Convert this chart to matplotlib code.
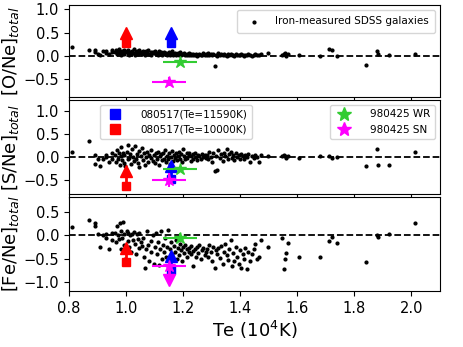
import matplotlib
matplotlib.use("Agg")
import matplotlib.pyplot as plt
import numpy as np
from matplotlib.lines import Line2D

# ---- SDSS iron-measured galaxies ----
te_a = [0.81, 0.87, 0.89, 0.89, 0.90, 0.91, 0.92, 0.93, 0.93, 0.94, 0.95, 0.95]
one_a = [0.2, 0.12, 0.08, 0.12, 0.05, 0.03, 0.1, 0.06, 0.1, 0.04, 0.12, 0.08]
sne_a = [0.12, 0.35, -0.15, 0.05, -0.05, -0.2, -0.03, 0.0, 0.05, -0.1, -0.05, 0.1]
fene_a = [0.18, 0.33, 0.25, 0.20, 0.02, -0.25, 0.0, 0.03, -0.05, -0.3, -0.1, 0.05]

te_b = [0.962,0.965,0.968,0.972,0.975,0.978,0.981,0.983,0.986,0.989,
        0.991,0.994,0.997,1.002,1.005,1.008,1.011,1.014,1.017,1.021,
        1.024,1.027,1.031,1.034,1.037,1.041,1.044,1.047,1.052,1.056,
        1.059,1.063,1.067,1.071,1.074,1.078,1.082,1.086,1.089,1.093,
        1.097,1.101,1.104,1.108,1.112,1.116,1.119,1.123,1.127,1.131,
        1.134,1.138,1.141,1.145,1.148,1.152,1.155,1.158,1.161,1.164,
        1.167,1.171,1.174,1.178,1.182,1.186,1.189,1.193,1.197,1.201,
        1.204,1.208,1.212,1.215,1.219,1.222,1.226,1.229,1.233,1.236,
        1.241,1.245,1.249,1.253,1.257,1.262,1.266,1.271,1.275,1.279]
one_b = [0.08,0.12,0.05,0.10,0.14,0.06,0.09,0.03,0.11,0.07,
         0.13,0.04,0.08,0.10,0.06,0.12,0.02,0.09,0.05,0.11,
         0.07,0.14,0.03,0.08,0.10,0.05,0.12,0.06,0.09,0.04,
         0.11,0.07,0.02,0.10,0.06,0.13,0.05,0.08,0.03,0.09,
         0.06,0.11,0.04,0.07,0.02,0.10,0.05,0.08,0.03,0.06,
         0.09,0.04,0.07,0.01,0.05,0.08,0.03,0.06,0.10,0.02,
         0.05,0.07,0.01,0.04,0.06,0.03,0.08,0.02,0.05,0.04,
         0.06,0.01,0.03,0.05,0.02,0.07,0.04,0.01,0.03,0.05,
         0.02,0.04,0.00,0.03,0.05,0.01,0.03,0.06,0.02,0.04]
sne_b = [0.05,-0.10,0.15,-0.03,0.08,-0.18,0.02,0.22,-0.07,0.10,
         -0.12,0.04,-0.20,0.12,-0.05,0.26,-0.02,0.07,-0.15,0.18,
         0.00,-0.08,0.25,-0.04,0.06,-0.12,0.14,-0.22,0.03,0.20,
         -0.06,0.09,-0.16,0.01,0.11,-0.10,0.05,-0.02,0.16,-0.08,
         0.04,-0.13,0.08,-0.04,0.12,-0.18,0.02,0.06,-0.07,0.10,
         -0.03,0.15,-0.11,0.03,-0.05,0.08,-0.14,0.00,0.13,-0.09,
         0.05,-0.02,0.09,-0.06,0.02,0.11,-0.04,0.06,-0.10,0.18,
         0.03,-0.05,0.08,-0.01,0.04,0.10,-0.08,0.02,0.06,-0.03,
         0.09,0.01,-0.06,0.05,0.02,-0.04,0.07,0.00,0.04,-0.02]
fene_b = [0.05,-0.15,0.20,0.00,-0.08,0.25,-0.30,0.10,-0.05,0.28,
          -0.20,0.02,-0.50,0.08,-0.12,0.05,-0.25,0.00,-0.35,0.03,
          -0.10,0.06,-0.18,-0.40,0.02,-0.08,-0.28,0.04,-0.15,-0.22,
          -0.05,-0.45,-0.70,-0.30,0.10,-0.20,-0.55,-0.12,-0.35,0.00,
          -0.60,-0.25,0.05,-0.40,-0.15,-0.62,-0.30,0.08,-0.50,-0.20,
          -0.35,-0.05,-0.45,-0.25,0.12,-0.55,-0.30,-0.15,-0.40,-0.65,
          -0.22,-0.35,-0.10,-0.50,-0.28,-0.42,-0.18,-0.32,-0.55,-0.25,
          -0.38,-0.20,-0.45,-0.30,-0.35,-0.28,-0.40,-0.22,-0.33,-0.65,
          -0.30,-0.45,-0.25,-0.38,-0.20,-0.50,-0.32,-0.28,-0.42,-0.35]

te_c = [1.283,1.288,1.292,1.297,1.302,1.306,1.311,1.315,1.318,1.323,
        1.328,1.333,1.338,1.342,1.347,1.352,1.356,1.361,1.366,1.371,
        1.375,1.379,1.384,1.389,1.394,1.398,1.403,1.408,1.413,1.418,
        1.423,1.428,1.434,1.441,1.447,1.453,1.459,1.466,1.474,1.497]
one_c = [0.03,0.06,0.01,0.04,0.02,0.05,-0.22,0.03,0.00,0.06,
         0.02,0.04,0.01,0.05,0.03,0.00,0.04,0.02,0.05,0.01,
         0.03,0.00,0.04,0.02,0.03,0.01,0.05,0.02,0.00,0.03,
         0.01,0.04,0.02,0.00,0.03,0.05,0.01,0.02,0.04,0.06]
sne_c = [0.05,-0.05,0.12,0.00,-0.10,0.08,-0.30,0.03,-0.28,0.15,
         -0.02,0.06,-0.08,0.10,0.02,0.18,-0.04,0.07,0.12,-0.01,
         0.04,-0.07,0.09,0.01,0.05,-0.03,0.06,0.02,-0.05,0.04,
         0.00,0.07,-0.10,0.03,-0.02,0.05,0.01,-0.10,0.04,0.02]
fene_c = [-0.30,-0.45,-0.20,-0.35,-0.55,-0.25,-0.70,-0.32,-0.40,-0.28,
          -0.48,-0.22,-0.60,-0.35,-0.18,-0.42,-0.52,-0.30,-0.10,-0.65,
          -0.38,-0.55,-0.25,-0.45,-0.60,-0.32,-0.70,-0.40,-0.50,-0.28,
          -0.72,-0.35,-0.55,-0.40,-0.30,-0.18,-0.50,-0.45,-0.10,-0.25]

te_d = [1.545,1.552,1.556,1.562,1.568,1.605,1.68,1.712,1.722,1.738,1.84,1.88,1.884,1.92,2.012]
one_d = [0.02,0.05,0.07,0.00,0.04,0.01,0.0,0.14,0.13,0.0,-0.19,0.10,0.05,0.02,0.05]
sne_d = [0.03,0.05,0.02,-0.01,0.03,-0.02,0.02,0.02,-0.02,0.0,-0.20,0.18,-0.17,-0.17,0.12]
fene_d = [-0.05,-0.72,-0.50,-0.37,-0.17,-0.47,-0.46,-0.13,-0.03,-0.17,-0.56,0.0,-0.03,0.03,0.27]

te_gal = te_a + te_b + te_c + te_d
one_gal = one_a + one_b + one_c + one_d
sne_gal = sne_a + sne_b + sne_c + sne_d
fene_gal = fene_a + fene_b + fene_c + fene_d

# ---- GRB host measurements ----
te_080517_hi = 1.159
te_080517_lo = 1.000
one_080517_hi, one_080517_hi_lim = 0.27, 0.50
one_080517_lo, one_080517_lo_lim = 0.27, 0.50
sne_080517_hi, sne_080517_hi_lim = -0.48, -0.20
sne_080517_lo, sne_080517_lo_lim = -0.62, -0.30
fene_080517_hi, fene_080517_hi_lim = -0.73, -0.43
fene_080517_lo, fene_080517_lo_lim = -0.57, -0.27

te_wr, te_wr_err = 1.19, 0.06
te_sn, te_sn_err = 1.15, 0.06
one_wr, one_wr_err = -0.12, 0.05
one_sn, one_sn_err = -0.55, 0.09
sne_wr, sne_wr_err = -0.25, 0.05
sne_sn, sne_sn_err = -0.50, 0.15
fene_wr, fene_wr_err = -0.05, 0.10
fene_sn, fene_sn_lim = -0.65, -0.95

fig = plt.figure(figsize=(4.63, 3.47), dpi=100)
L, W = 69/463, 371/463
def ax_at(top, bot):
    return fig.add_axes([L, 1 - bot/347, W, (bot - top)/347])
ax1 = ax_at(5, 97)
ax2 = ax_at(100, 194)
ax3 = ax_at(197, 291)

panels = [
    (ax1, one_gal, r'[O/Ne]$_{total}$', (-0.88, 1.09),
     (one_080517_hi, one_080517_hi_lim), (one_080517_lo, one_080517_lo_lim),
     (one_wr, one_wr_err), (one_sn, one_sn_err, None)),
    (ax2, sne_gal, r'[S/Ne]$_{total}$', (-0.8, 1.24),
     (sne_080517_hi, sne_080517_hi_lim), (sne_080517_lo, sne_080517_lo_lim),
     (sne_wr, sne_wr_err), (sne_sn, sne_sn_err, None)),
    (ax3, fene_gal, r'[Fe/Ne]$_{total}$', (-1.18, 0.81),
     (fene_080517_hi, fene_080517_hi_lim), (fene_080517_lo, fene_080517_lo_lim),
     (fene_wr, fene_wr_err), (fene_sn, None, fene_sn_lim)),
]

green = '#33cc33'
for ax, gal, lab, ylim, hi, lo, wr, sn in panels:
    ax.axhline(0, color='black', ls='--', lw=1.3, zorder=1)
    ax.scatter(te_gal, gal, s=4, color='black', zorder=2,
               label='Iron-measured SDSS galaxies')
    for te, (v, lim), c in [(te_080517_hi, hi, 'blue'), (te_080517_lo, lo, 'red')]:
        ax.plot([te, te], [v, lim], color=c, lw=2, zorder=3)
        ax.plot([te], [lim], marker='^', ms=9, color=c, ls='none', zorder=4)
        ax.plot([te], [v], marker='s', ms=6, color=c, ls='none', zorder=4)
    ax.errorbar([te_wr], [wr[0]], xerr=te_wr_err, yerr=wr[1], fmt='*',
                color=green, ms=9, elinewidth=1.5, zorder=5)
    if sn[2] is None:
        ax.errorbar([te_sn], [sn[0]], xerr=te_sn_err, yerr=sn[1], fmt='*',
                    color='magenta', ms=9, elinewidth=1.5, zorder=5)
    else:
        ax.errorbar([te_sn], [sn[0]], xerr=te_sn_err, fmt='*',
                    color='magenta', ms=9, elinewidth=1.5, zorder=5)
        ax.plot([te_sn, te_sn], [sn[0], sn[2]], color='magenta', lw=2, zorder=5)
        ax.plot([te_sn], [sn[2]], marker='v', ms=9, color='magenta', ls='none', zorder=5)
    ax.set_xlim(0.8, 2.1)
    ax.set_ylabel(lab, fontsize=13, labelpad=2)
    ax.tick_params(labelsize=10.5)
    ax.set_yticks([-1.0, -0.5, 0.0, 0.5, 1.0])
    ax.set_ylim(*ylim)

ax1.set_xticklabels([])
ax2.set_xticklabels([])
ax1.legend(loc='upper right', fontsize=7.5, handletextpad=1.0, borderpad=0.6)

h1 = [Line2D([], [], marker='s', color='blue', ls='none', ms=6.5),
      Line2D([], [], marker='s', color='red', ls='none', ms=6.5)]
leg1 = ax2.legend(h1, ['080517(Te=11590K)', '080517(Te=10000K)'],
                  loc='upper left', bbox_to_anchor=(0.07, 1.0), fontsize=7.5,
                  handletextpad=1.5)
ax2.add_artist(leg1)
h2 = [Line2D([], [], marker='*', color=green, ls='none', ms=10),
      Line2D([], [], marker='*', color='magenta', ls='none', ms=10)]
ax2.legend(h2, ['980425 WR', '980425 SN'], loc='upper right', fontsize=7.5,
           handletextpad=1.5)

ax3.set_xticks([0.8, 1.0, 1.2, 1.4, 1.6, 1.8, 2.0])
ax3.set_xlabel(r'Te (10$^4$K)', fontsize=13, labelpad=2)

fig.savefig('out.png', dpi=100)
